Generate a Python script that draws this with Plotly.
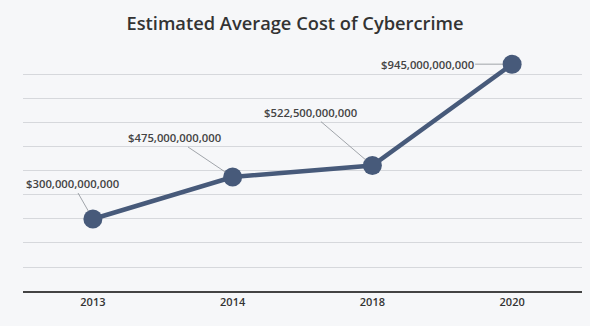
import plotly.graph_objects as go

years = ["2013", "2014", "2018", "2020"]
costs = [300e9, 475e9, 522.5e9, 945e9]
labels = ["$300,000,000,000", "$475,000,000,000", "$522,500,000,000", "$945,000,000,000"]
label_ax = [-20, -58, -62, -85]
label_ay = [-35, -39, -53, 0]

line_color = "#475a7a"
bg = "#f6f7f9"

fig = go.Figure()
fig.add_trace(go.Scatter(
    x=years, y=costs, mode="lines+markers",
    line=dict(color=line_color, width=4.5),
    marker=dict(size=19, color=line_color),
    hoverinfo="skip", showlegend=False,
))

for i, (c, lab, ax, ay) in enumerate(zip(costs, labels, label_ax, label_ay)):
    fig.add_annotation(
        x=i, y=c, text=lab, showarrow=True, arrowhead=0, arrowwidth=0.8,
        arrowcolor="#8a8f96", ax=ax, ay=ay, standoff=9,
        font=dict(family="Open Sans", size=11.3, color="#444", weight=600),
    )

fig.update_layout(
    width=590, height=326,
    margin=dict(l=23, r=8, t=50, b=35),
    paper_bgcolor=bg, plot_bgcolor=bg,
    title=dict(text="Estimated Average Cost of Cybercrime", x=0.5, xanchor="center",
               y=1 - 24 / 326, yanchor="middle", yref="container",
               font=dict(family="Open Sans", size=18.3, color="#333", weight=600)),
    xaxis=dict(type="category", range=[-0.5, len(years) - 0.5], showgrid=False,
               showline=True, linecolor="#444", linewidth=2,
               ticks="", tickfont=dict(family="Open Sans", size=11, color="#333", weight=600),
               fixedrange=True),
    yaxis=dict(range=[0, 1004e9], dtick=100e9, showgrid=True, gridcolor="#d6d8dc", gridwidth=1.3,
               showticklabels=False, zeroline=False, fixedrange=True),
)

fig.write_html("out.html")
